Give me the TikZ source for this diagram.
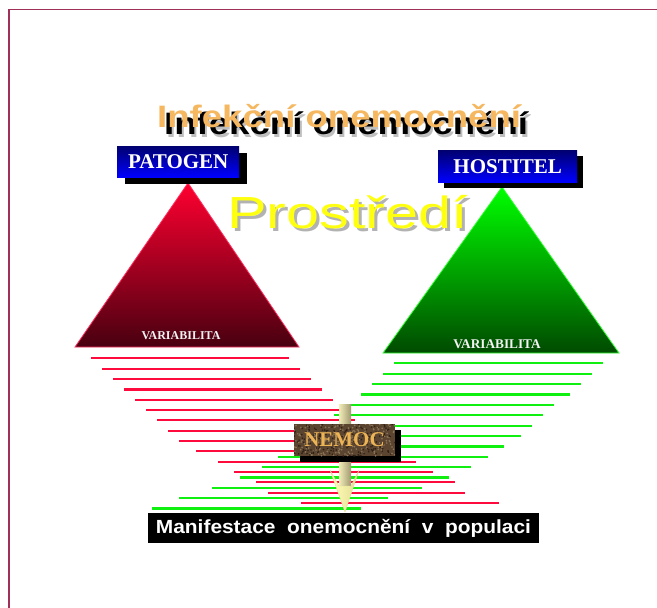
\documentclass[tikz,border=0pt]{standalone}
\usepackage{fontspec}
\setmainfont{Liberation Serif}
\newfontfamily\arialf{Liberation Sans}
\usetikzlibrary{shadows}
\definecolor{framecol}{HTML}{A0305A}
\definecolor{redln}{HTML}{FF0A3C}
\definecolor{greenln}{HTML}{10F010}
\definecolor{redtop}{HTML}{FF0030}
\definecolor{redbot}{HTML}{480010}
\definecolor{rededge}{HTML}{FF3060}
\definecolor{grntop}{HTML}{00FF00}
\definecolor{grnbot}{HTML}{004A00}
\definecolor{grnedge}{HTML}{30FF30}
\definecolor{navytop}{HTML}{000070}
\definecolor{bluebot}{HTML}{0000FF}
\definecolor{titleor}{HTML}{F5B860}
\definecolor{yel}{HTML}{FFFF10}
\definecolor{nembase}{HTML}{5C4530}
\definecolor{nemlt}{HTML}{8E7658}
\definecolor{nemdk}{HTML}{2E2015}
\definecolor{nemtxt}{HTML}{EDB456}
\definecolor{arrl}{HTML}{F2ECB8}
\definecolor{arrr}{HTML}{A09870}
\definecolor{headl}{HTML}{FFFFB8}
\definecolor{headr}{HTML}{E4DC94}
\newcommand\ttlfont{\arialf\bfseries\fontsize{31}{31}\selectfont}
\newcommand\prfont{\arialf\fontsize{45}{45}\selectfont}
\tikzset{
  redline/.style={draw=redln, line width=2.4pt},
  greenline/.style={draw=greenln, line width=2.4pt},
  bluebox/.style={top color=navytop, bottom color=bluebot, text=white, inner sep=0pt,
    font=\bfseries\fontsize{21}{21}\selectfont, anchor=north west},
  varlabel/.style={text=black!5, inner sep=0pt, anchor=base},
  plain/.style={inner sep=0pt, anchor=base west}
}
\begin{document}
\begin{tikzpicture}[x=1pt,y=-1pt]
\useasboundingbox (0,0) rectangle (657,608);
\fill[white] (0,0) rectangle (657,608);
\draw[framecol, line width=1.3pt] (9,608) -- (9,9.5) -- (657,9.5);

% lines
\foreach \y/\a/\b in {358/91/289, 369/102/300, 379/113/311, 389.5/124/322, 400/135/333,
  410/146/344, 420/157/355, 431/168/366, 441/179/377, 451/196/394, 462/218/416,
  472/234/433, 482/256/455, 493/268/465, 503/301/499}
  \draw[redline] (\a,\y) -- (\b,\y);
\foreach \y/\a/\b in {363/394/603, 374/383/592, 384/372/581, 394.5/361/570, 405/346/554,
  415/334/543, 426/323/532, 436/312/521, 446.5/295/504, 457/278/488, 467/262/471,
  477.5/240/449, 488/212/422, 498/179/388, 508.5/152/361}
  \draw[greenline] (\a,\y) -- (\b,\y);

% triangles
\shadedraw[top color=redtop, bottom color=redbot, draw=rededge, line width=0.8pt]
  (188,183) -- (75,347) -- (299,347) -- cycle;
\shadedraw[top color=grntop, bottom color=grnbot, draw=grnedge, line width=0.8pt]
  (502,187) -- (383,353) -- (619,353) -- cycle;
\node[varlabel, font=\bfseries\fontsize{12}{12}\selectfont] (var1) at (181,339) {VARIABILITA};
\node[varlabel, font=\bfseries\fontsize{13.3}{13.3}\selectfont] (var2) at (497,348) {VARIABILITA};

% boxes
\node[bluebox, minimum width=122pt, minimum height=31pt,
  drop shadow={shadow xshift=8pt, shadow yshift=-7pt, fill=black, opacity=1}] (patogen) at (117,146) {PATOGEN};
\node[bluebox, minimum width=139pt, minimum height=32pt,
  drop shadow={shadow xshift=6pt, shadow yshift=-6pt, fill=black, opacity=1}] (hostitel) at (438,150) {HOSTITEL};

% title
\node[plain, text=black!25] (ttlsh) at (166,137) {\scalebox{1.18}[1]{\ttlfont Infekční onemocnění}};
\node[plain, text=black] (ttl) at (164,134) {\scalebox{1.18}[1]{\ttlfont Infekční onemocnění}};
\node[plain, text=titleor] (ttlo) at (157,127) {\scalebox{1.18}[1]{\ttlfont Infekční onemocnění}};

% Prostredi
\node[plain, text=black!30] (prsh) at (230,231) {\scalebox{1.32}[1]{\prfont Prostředí}};
\node[plain, text=yel] (pr) at (227,228) {\scalebox{1.32}[1]{\prfont Prostředí}};

% arrow
\coordinate (atop) at (345,404);
\coordinate (atip) at (345,512);
\shade[left color=arrl, right color=arrr] ([xshift=-6pt]atop) rectangle (351,486);
\shadedraw[left color=headl, right color=headr, draw=headr, line width=0.4pt]
  (339,486) -- (330,470) -- (atip) -- (359,470) -- (351,486) -- cycle;

% NEMOC
\node[fill=nembase, minimum width=101pt, minimum height=32pt, inner sep=0pt,
  text=nemtxt, font=\bfseries\fontsize{21}{21}\selectfont,
  drop shadow={shadow xshift=6pt, shadow yshift=-6pt, fill=black, opacity=1},
  path picture={
    \pgfmathsetseed{7}
    \foreach \i in {1,...,420}{
      \pgfmathsetmacro\rx{rnd*101}\pgfmathsetmacro\ry{rnd*32}\pgfmathsetmacro\rc{rnd}
      \ifdim\rc pt<0.5pt \def\cc{nemlt}\else\def\cc{nemdk}\fi
      \fill[\cc] ([shift={(\rx,\ry)}]path picture bounding box.north west) circle (0.9);
    }
  }] (nemoc) at (344.5,440) {NEMOC};

% Manifestace
\node[fill=black, text=white, minimum width=391pt, minimum height=30pt, inner sep=0pt]
  (manif) at (343.5,528) {\scalebox{1.1}[1]{\arialf\bfseries\fontsize{19}{19}\selectfont Manifestace\ \ onemocnění\ \ v\ \ populaci}};
\end{tikzpicture}
\end{document}
